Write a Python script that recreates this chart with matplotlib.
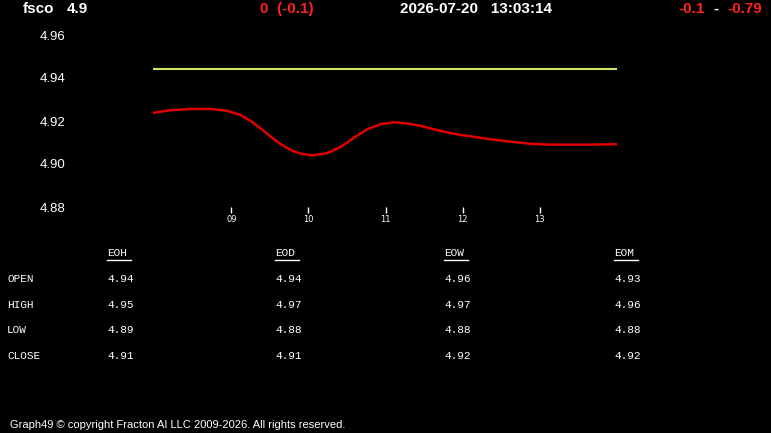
import matplotlib.pyplot as plt

# hours of the day and price readings
hours = [8.0, 8.21, 8.47, 8.73, 8.94, 9.12, 9.25, 9.38, 9.51, 9.64, 9.77, 9.9,
         10.01, 10.07, 10.24, 10.42, 10.59, 10.76, 10.94, 11.11, 11.28, 11.46,
         11.63, 11.8, 11.97, 12.1, 12.36, 12.62, 12.88, 13.14, 13.4, 13.66, 14.0]
price = [4.9239, 4.925, 4.9256, 4.9256, 4.9248, 4.9228, 4.92, 4.9166, 4.9127,
         4.9092, 4.9065, 4.9048, 4.9042, 4.9041, 4.905, 4.908, 4.9122, 4.9161,
         4.9186, 4.9194, 4.9189, 4.9177, 4.9161, 4.9147, 4.9135, 4.9129, 4.9115,
         4.9104, 4.9094, 4.909, 4.909, 4.909, 4.9092]
ref_level = 4.944

yticks = [4.88, 4.90, 4.92, 4.94, 4.96]
xticks = [9, 10, 11, 12, 13]
xlabels = ['09', '10', '11', '12', '13']

# summary table
columns = ['EOH', 'EOD', 'EOW', 'EOM']
rows = ['OPEN', 'HIGH', 'LOW', 'CLOSE']
table = [['4.94', '4.94', '4.96', '4.93'],
         ['4.95', '4.97', '4.97', '4.96'],
         ['4.89', '4.88', '4.88', '4.88'],
         ['4.91', '4.91', '4.92', '4.92']]

W, H = 771, 433
fig = plt.figure(figsize=(W / 100, H / 100), dpi=100, facecolor='black')

# axes from x px 70 to 617, y px 35 to 207
ax = fig.add_axes([70 / W, (H - 207) / H, (617 - 70) / W, 172 / H])
ax.set_facecolor('black')
ax.plot([8.0, 14.0], [ref_level, ref_level], color='#d2e06a', lw=1.5)
ax.plot(hours, price, color='#e00000', lw=1.8, solid_joinstyle='round')
ax.set_xlim(8 - 84 / 77, 14.0)
ax.set_ylim(4.88, 4.96)
for s in ax.spines.values():
    s.set_visible(False)
ax.set_yticks(yticks)
ax.set_yticklabels(['%.2f' % v for v in yticks], family='Liberation Sans', fontsize=9.5)
ax.tick_params(axis='y', length=0, pad=3, colors='white')
ax.set_xticks(xticks)
ax.set_xticklabels(xlabels, family='DejaVu Sans', fontsize=6)
ax.tick_params(axis='x', length=4, width=1, pad=2, colors='white', direction='out')

def px(x, y):
    return x / W, 1 - y / H

hdr = dict(family='Liberation Sans', fontweight='bold', fontsize=11, va='center')
fig.text(*px(23, 9), 'fsco', color='white', **hdr)
fig.text(*px(67, 9), '4.9', color='white', **hdr)
fig.text(*px(287, 9), '0  (-0.1)', color='#ff2020', ha='center', **hdr)
fig.text(*px(476, 9), '2026-07-20   13:03:14', color='white', ha='center', **hdr)
fig.text(*px(705, 9), '-0.1', color='#ff2020', ha='right', **hdr)
fig.text(*px(716, 9), '-', color='white', ha='center', **hdr)
fig.text(*px(727, 9), '-0.79', color='#ff2020', ha='left', **hdr)

mono = dict(family='Liberation Mono', fontsize=8, color='white', va='center')
col_x = [107, 275, 444, 614]
row_y = [279, 305, 330, 356]
for cx, name in zip(col_x, columns):
    fig.text(*px(cx, 253), name, **mono)
    fig.add_artist(plt.Line2D([cx / W, (cx + 24) / W], [1 - 260 / H, 1 - 260 / H],
                              color='white', lw=1))
for ry, name, vals in zip(row_y, rows, table):
    fig.text(*px(7, ry), name, **mono)
    for cx, v in zip(col_x, vals):
        fig.text(*px(cx, ry), v, **mono)

fig.text(*px(10, 425), 'Graph49 \u00a9 copyright Fracton AI LLC 2009-2026. All rights reserved.',
         family='Liberation Sans', fontsize=8, color='white', va='center')

fig.savefig('out.png', dpi=100, facecolor='black')
